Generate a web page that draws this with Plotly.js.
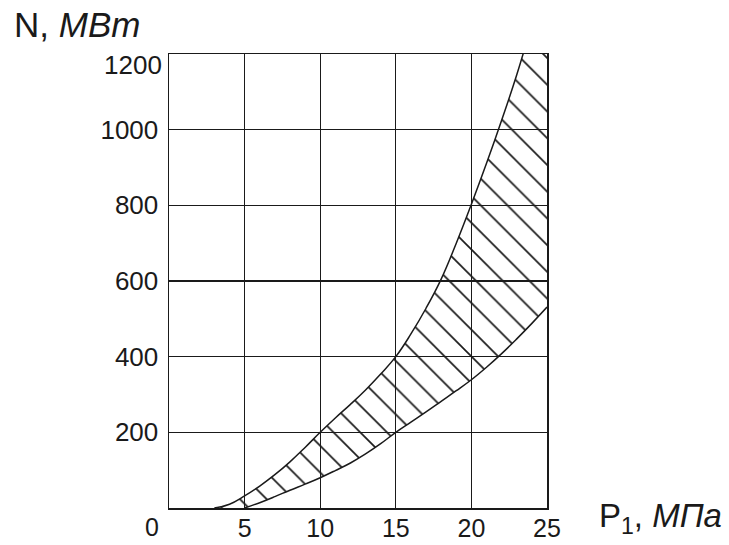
<!DOCTYPE html>
<html>
<head>
<meta charset="utf-8">
<script src="https://cdn.plot.ly/plotly-3.0.1.min.js"></script>
<style>body{margin:0;padding:0;background:#fff;} #chart{width:729px;height:545px;}</style>
</head>
<body>
<div id="chart"></div>
<script>
// Upper boundary curve (N vs P1)
const upperP = [3, 4, 5, 6, 7, 8, 9, 10, 11, 12, 13, 14, 15, 16, 17, 18, 19, 20, 21, 22, 23, 24, 25];
const upperN = [0, 10, 32, 58, 88, 122, 160, 200, 238, 274, 312, 354, 400, 460, 528, 605, 700, 803, 911, 1025, 1145, 1280, 1420];
// Lower boundary curve
const lowerP = [5, 6, 7, 8, 9, 10, 11, 12, 13, 14, 15, 16, 17, 18, 19, 20, 21, 22, 23, 24, 25];
const lowerN = [0, 14, 30, 47, 63, 80, 99, 119, 143, 170, 200, 227, 254, 282, 310, 339, 372, 408, 447, 488, 531];
// Axis ticks
const xTickVals = [5, 10, 15, 20, 25];
const xTickText = ['5', '10', '15', '20', '25'];
const yTickVals = [200, 400, 600, 800, 1000];
const yTickText = ['200', '400', '600', '800', '1000'];
const xZeroLabel = '0';
const yTopLabel = '1200';
const yTop = 1200;

const lowerTrace = {
  x: lowerP, y: lowerN, type: 'scatter', mode: 'lines',
  line: {color: '#1a1a1a', width: 1.5, shape: 'spline', smoothing: 1.2},
  hoverinfo: 'skip', showlegend: false
};
const upperTrace = {
  x: upperP, y: upperN, type: 'scatter', mode: 'lines',
  line: {color: '#1a1a1a', width: 1.5, shape: 'spline', smoothing: 1.2},
  fill: 'tonexty', fillcolor: 'rgba(0,0,0,0)',
  fillpattern: {shape: '\\', size: 18.9, solidity: 0.09, fgcolor: '#1a1a1a', bgcolor: 'rgba(0,0,0,0)'},
  hoverinfo: 'skip', showlegend: false
};

const fam = 'Liberation Sans, Arial, sans-serif';
const ink = '#1a1a1a';

const layout = {
  width: 729, height: 545,
  margin: {l: 169, r: 182, t: 54, b: 37, pad: 0},
  paper_bgcolor: '#fff', plot_bgcolor: '#fff',
  font: {family: fam, color: ink},
  showlegend: false,
  xaxis: {
    range: [0, 25], tickvals: xTickVals, ticktext: xTickText,
    showgrid: true, gridcolor: ink, gridwidth: 1.4,
    showline: true, linecolor: ink, linewidth: 1.5, mirror: true,
    zeroline: false, ticks: '', ticklabelstandoff: -3,
    tickfont: {family: fam, size: 25, color: ink}
  },
  yaxis: {
    range: [0, yTop], tickvals: yTickVals, ticktext: yTickText,
    showgrid: true, gridcolor: ink, gridwidth: 1.4,
    showline: true, linecolor: ink, linewidth: 1.5, mirror: true,
    zeroline: false, ticks: '', ticklabelstandoff: 4,
    tickfont: {family: fam, size: 26, color: ink}
  },
  annotations: [
    {text: 'N, <i>МВт</i>', xref: 'paper', yref: 'paper', x: -0.4153, y: 1.065,
     xanchor: 'left', yanchor: 'middle', showarrow: false,
     font: {family: fam, size: 35, color: ink}},
    {text: 'P<sub>1</sub>, <i>МПа</i>', xref: 'paper', yref: 'paper', x: 1.132, y: -0.022,
     xanchor: 'left', yanchor: 'middle', showarrow: false,
     font: {family: fam, size: 33, color: ink}},
    {text: xZeroLabel, xref: 'x', yref: 'paper', x: 0, y: 0, xshift: -17,
     xanchor: 'center', yanchor: 'middle', yshift: -19, showarrow: false,
     font: {family: fam, size: 25, color: ink}},
    {text: yTopLabel, xref: 'paper', yref: 'y', x: 0, y: yTop, xshift: -5, yshift: -11,
     xanchor: 'right', yanchor: 'middle', showarrow: false,
     font: {family: fam, size: 26, color: ink}}
  ]
};

Plotly.newPlot('chart', [lowerTrace, upperTrace], layout, {staticPlot: true, displayModeBar: false});
</script>
</body>
</html>
